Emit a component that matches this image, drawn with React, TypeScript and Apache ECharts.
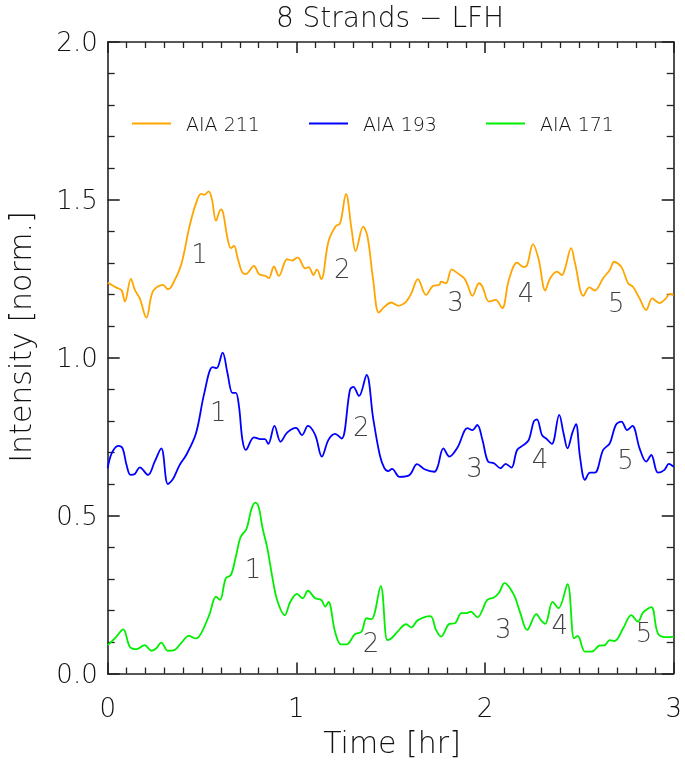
import React, { useEffect, useRef } from "react";
import * as echarts from "echarts";

const xTicks = [0, 1, 2, 3];
const yTicks = [0, 0.5, 1.0, 1.5, 2.0];

const aia211: [number, number][] = [
  [0, 1.238], [0.047, 1.222], [0.074, 1.213], [0.091, 1.178], [0.123, 1.25], [0.144, 1.215], [0.17, 1.188], [0.205, 1.127],
  [0.24, 1.211], [0.293, 1.231], [0.319, 1.217], [0.337, 1.225], [0.389, 1.294], [0.433, 1.415], [0.468, 1.489], [0.495, 1.519],
  [0.512, 1.516], [0.535, 1.527], [0.553, 1.5], [0.574, 1.434], [0.6, 1.47], [0.612, 1.458], [0.635, 1.378], [0.653, 1.347],
  [0.67, 1.354], [0.687, 1.32], [0.711, 1.273], [0.732, 1.265], [0.775, 1.291], [0.802, 1.265], [0.837, 1.259], [0.854, 1.252],
  [0.881, 1.289], [0.907, 1.259], [0.951, 1.312], [0.977, 1.308], [1.007, 1.318], [1.047, 1.283], [1.065, 1.287], [1.091, 1.262],
  [1.109, 1.28], [1.132, 1.249], [1.17, 1.368], [1.209, 1.417], [1.232, 1.426], [1.263, 1.519], [1.293, 1.405], [1.314, 1.338],
  [1.354, 1.415], [1.377, 1.384], [1.407, 1.246], [1.437, 1.143], [1.468, 1.162], [1.503, 1.175], [1.538, 1.165], [1.582, 1.178],
  [1.609, 1.204], [1.644, 1.249], [1.687, 1.199], [1.723, 1.227], [1.758, 1.231], [1.767, 1.241], [1.793, 1.236], [1.823, 1.28],
  [1.854, 1.268], [1.889, 1.252], [1.907, 1.231], [1.933, 1.196], [1.968, 1.236], [1.986, 1.225], [2.021, 1.178], [2.056, 1.183],
  [2.091, 1.157], [2.126, 1.246], [2.17, 1.301], [2.205, 1.287], [2.223, 1.294], [2.254, 1.36], [2.284, 1.312], [2.319, 1.213],
  [2.345, 1.252], [2.381, 1.273], [2.407, 1.262], [2.424, 1.283], [2.456, 1.347], [2.477, 1.299], [2.521, 1.196], [2.553, 1.223],
  [2.582, 1.213], [2.626, 1.252], [2.661, 1.278], [2.684, 1.304], [2.723, 1.287], [2.758, 1.236], [2.784, 1.225], [2.819, 1.188],
  [2.854, 1.151], [2.886, 1.188], [2.924, 1.173], [2.959, 1.188], [2.977, 1.202], [3.0, 1.199],
];

const aia193: [number, number][] = [
  [0, 0.65], [0.021, 0.697], [0.056, 0.721], [0.079, 0.713], [0.1, 0.66], [0.121, 0.629], [0.144, 0.632], [0.17, 0.653],
  [0.214, 0.629], [0.249, 0.671], [0.284, 0.713], [0.319, 0.6], [0.345, 0.615], [0.381, 0.66], [0.416, 0.692], [0.468, 0.761],
  [0.512, 0.888], [0.556, 0.97], [0.577, 0.967], [0.609, 1.016], [0.635, 0.951], [0.661, 0.889], [0.679, 0.889], [0.696, 0.845],
  [0.714, 0.74], [0.732, 0.708], [0.775, 0.748], [0.811, 0.742], [0.833, 0.742], [0.851, 0.727], [0.884, 0.784], [0.916, 0.734],
  [0.951, 0.763], [0.998, 0.778], [1.03, 0.755], [1.061, 0.784], [1.1, 0.755], [1.135, 0.687], [1.17, 0.74], [1.205, 0.759],
  [1.24, 0.744], [1.284, 0.898], [1.302, 0.908], [1.332, 0.879], [1.372, 0.946], [1.407, 0.808], [1.442, 0.692], [1.465, 0.652],
  [1.486, 0.641], [1.507, 0.648], [1.547, 0.623], [1.6, 0.629], [1.64, 0.663], [1.679, 0.647], [1.732, 0.639], [1.749, 0.655],
  [1.779, 0.713], [1.811, 0.687], [1.854, 0.716], [1.907, 0.777], [1.933, 0.771], [1.959, 0.787], [1.986, 0.74], [2.016, 0.671],
  [2.047, 0.666], [2.082, 0.65], [2.109, 0.664], [2.14, 0.652], [2.17, 0.708], [2.205, 0.724], [2.232, 0.74], [2.258, 0.798],
  [2.275, 0.805], [2.302, 0.755], [2.328, 0.742], [2.354, 0.727], [2.393, 0.819], [2.416, 0.761], [2.437, 0.713], [2.463, 0.763],
  [2.482, 0.79], [2.503, 0.687], [2.53, 0.613], [2.556, 0.636], [2.582, 0.636], [2.626, 0.708], [2.661, 0.729], [2.693, 0.787],
  [2.723, 0.798], [2.753, 0.771], [2.781, 0.784], [2.819, 0.713], [2.854, 0.671], [2.881, 0.692], [2.916, 0.636], [2.951, 0.645],
  [2.974, 0.664], [3.0, 0.655],
];

const aia171: [number, number][] = [
  [0, 0.09], [0.038, 0.111], [0.082, 0.14], [0.117, 0.085], [0.153, 0.077], [0.196, 0.09], [0.232, 0.072], [0.258, 0.08],
  [0.284, 0.098], [0.319, 0.072], [0.354, 0.074], [0.389, 0.096], [0.43, 0.119], [0.468, 0.111], [0.495, 0.127], [0.538, 0.185],
  [0.574, 0.243], [0.595, 0.233], [0.626, 0.302], [0.653, 0.312], [0.679, 0.37], [0.705, 0.433], [0.735, 0.457], [0.763, 0.523],
  [0.784, 0.541], [0.802, 0.523], [0.819, 0.465], [0.846, 0.397], [0.872, 0.307], [0.898, 0.233], [0.938, 0.185], [0.968, 0.227],
  [1.003, 0.252], [1.033, 0.238], [1.061, 0.262], [1.1, 0.238], [1.132, 0.233], [1.153, 0.212], [1.17, 0.227], [1.205, 0.132],
  [1.237, 0.092], [1.266, 0.092], [1.311, 0.125], [1.345, 0.132], [1.372, 0.175], [1.398, 0.172], [1.447, 0.277], [1.482, 0.106],
  [1.503, 0.111], [1.535, 0.132], [1.582, 0.156], [1.609, 0.146], [1.644, 0.169], [1.71, 0.182], [1.74, 0.138], [1.767, 0.117],
  [1.811, 0.157], [1.84, 0.159], [1.875, 0.191], [1.903, 0.191], [1.924, 0.196], [1.959, 0.178], [2.012, 0.233], [2.047, 0.241],
  [2.074, 0.256], [2.103, 0.286], [2.153, 0.249], [2.187, 0.191], [2.223, 0.138], [2.272, 0.188], [2.296, 0.169], [2.319, 0.157],
  [2.358, 0.227], [2.389, 0.207], [2.437, 0.283], [2.472, 0.111], [2.491, 0.119], [2.53, 0.069], [2.565, 0.069], [2.605, 0.088],
  [2.635, 0.09], [2.661, 0.106], [2.687, 0.103], [2.732, 0.143], [2.775, 0.185], [2.811, 0.164], [2.837, 0.193], [2.881, 0.21],
  [2.916, 0.127], [2.959, 0.115], [3.0, 0.117],
];

const strandLabels = ["1", "2", "3", "4", "5"];
const labelPos211: [number, number][] = [[0.486, 1.329], [1.243, 1.282], [1.844, 1.177], [2.217, 1.205], [2.696, 1.173]];
const labelPos193: [number, number][] = [[0.586, 0.828], [1.344, 0.781], [1.944, 0.651], [2.291, 0.679], [2.744, 0.676]];
const labelPos171: [number, number][] = [[0.77, 0.331], [1.396, 0.097], [2.096, 0.141], [2.396, 0.154], [2.843, 0.128]];

const seriesNames = ["AIA 211", "AIA 193", "AIA 171"];
const seriesColors = ["#ffa500", "#0000ff", "#00ee00"];

const FONT = "DejaVu Sans";
const TXT = "#111";

export default function App() {
  const ref = useRef<HTMLDivElement>(null);
  useEffect(() => {
    if (!ref.current) return;
    const chart = echarts.init(ref.current, null, { renderer: "svg" });
    const gridL = 107.7, gridR = 7.3, gridT = 42, gridB = 87.5;
    const axisLineStyle = { color: "#222", width: 1.6 };
    const baseX = {
      type: "value" as const,
      min: 0,
      max: 3,
      interval: 1,
      axisLine: { show: true, onZero: false, lineStyle: axisLineStyle },
      axisTick: { show: true, inside: true, length: 11, lineStyle: axisLineStyle },
      minorTick: { show: true, splitNumber: 10, length: 6, lineStyle: { color: "#222", width: 1.3 } },
      splitLine: { show: false },
      minorSplitLine: { show: false },
    };
    const baseY = {
      type: "value" as const,
      min: 0,
      max: 2,
      interval: 0.5,
      axisLine: { show: true, onZero: false, lineStyle: axisLineStyle },
      axisTick: { show: true, inside: true, length: 12, lineStyle: axisLineStyle },
      minorTick: { show: true, splitNumber: 5, length: 7, lineStyle: { color: "#222", width: 1.3 } },
      splitLine: { show: false },
      minorSplitLine: { show: false },
    };
    const labelData = [
      ...labelPos211.map((p, i) => [p[0], p[1], strandLabels[i]]),
      ...labelPos193.map((p, i) => [p[0], p[1], strandLabels[i]]),
      ...labelPos171.map((p, i) => [p[0], p[1], strandLabels[i]]),
    ];
    const datasets = [aia211, aia193, aia171];
    const legendLefts = [132, 309, 486];
    chart.setOption({
      animation: false,
      grid: { left: gridL, right: gridR, top: gridT, bottom: gridB, containLabel: false },
      xAxis: [
        {
          ...baseX,
          position: "bottom",
          axisLabel: {
            show: true,
            margin: 21,
            fontFamily: FONT,
            fontWeight: 200,
            fontSize: 26,
            color: TXT,
            formatter: (v: number) => (xTicks.includes(v) ? String(v) : ""),
          },
        },
        { ...baseX, position: "top", axisLabel: { show: false } },
      ],
      yAxis: [
        {
          ...baseY,
          position: "left",
          axisLabel: {
            show: true,
            margin: 10,
            fontFamily: FONT,
            fontWeight: 200,
            fontSize: 26,
            color: TXT,
            formatter: (v: number) => (yTicks.includes(v) ? v.toFixed(1) : ""),
          },
        },
        { ...baseY, position: "right", axisLabel: { show: false } },
      ],
      legend: seriesNames.map((n, i) => ({
        data: [n],
        left: legendLefts[i],
        top: 114,
        padding: 0,
        icon: "rect",
        itemWidth: 39,
        itemHeight: 2,
        selectedMode: false,
        textStyle: { fontFamily: FONT, fontWeight: 200, fontSize: 19, color: TXT, padding: [0, 0, 0, 10] },
      })),
      graphic: [
        {
          type: "text",
          x: 390,
          y: 17.5,
          style: { text: "8 Strands \u2212 LFH", fontFamily: FONT, fontWeight: 200, fontSize: 28, fill: TXT, align: "center", verticalAlign: "middle" },
        },
        {
          type: "text",
          x: 392,
          y: 742,
          style: { text: "Time [hr]", fontFamily: FONT, fontWeight: 200, fontSize: 30, lineHeight: 30, fill: TXT, align: "center", verticalAlign: "middle" },
        },
        {
          type: "text",
          x: 20,
          y: 337,
          rotation: Math.PI / 2,
          style: { text: "Intensity [norm.]", fontFamily: FONT, fontWeight: 200, fontSize: 30, lineHeight: 30, fill: TXT, align: "center", verticalAlign: "middle" },
        },
      ],
      series: [
        ...datasets.map((d, i) => ({
          name: seriesNames[i],
          type: "line",
          data: d,
          symbol: "none",
          smooth: 0.35,
          lineStyle: { color: seriesColors[i], width: 1.8 },
          itemStyle: { color: seriesColors[i] },
          xAxisIndex: 0,
          yAxisIndex: 0,
          z: 3,
        })),
        {
          name: "strand labels",
          type: "scatter",
          data: labelData,
          symbolSize: 0,
          silent: true,
          label: {
            show: true,
            position: "inside",
            formatter: (p: any) => p.data[2],
            fontFamily: FONT,
            fontWeight: 200,
            fontSize: 26,
            color: TXT,
          },
          z: 4,
        },
      ],
    });
    return () => chart.dispose();
  }, []);
  return <div ref={ref} style={{ position: "fixed", left: 0, top: 0, width: 685, height: 761 }} />;
}
